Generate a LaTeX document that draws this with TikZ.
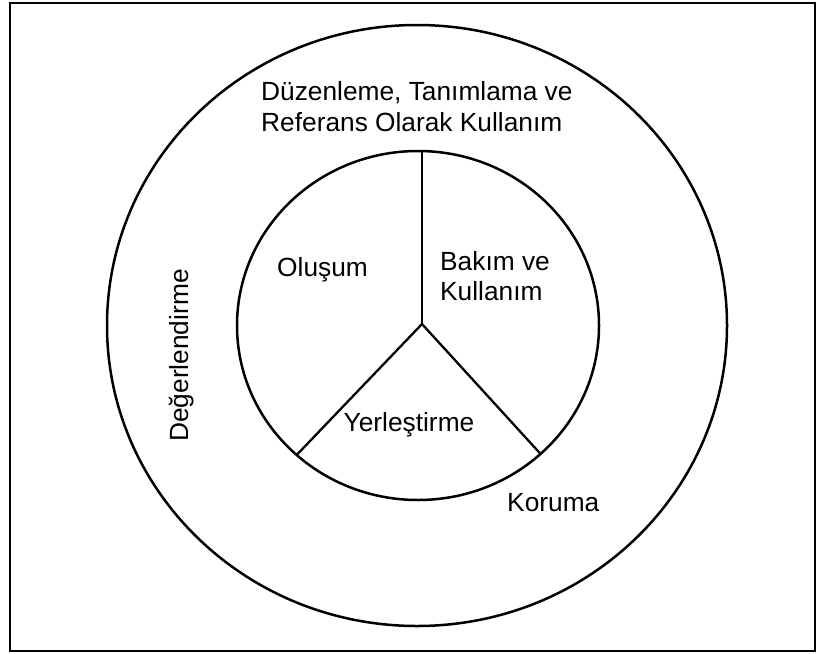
\documentclass[tikz,border=0pt]{standalone}
\usepackage{fontspec}
\setmainfont{Liberation Sans}
\begin{document}
\begin{tikzpicture}[x=1pt,y=-1pt,
  ring/.style={draw, line width=2.5pt},
  spoke/.style={draw, line width=2.3pt},
  frame/.style={draw, line width=2pt},
  lbl/.style={inner sep=0pt, anchor=base west, font=\fontsize{26.3}{31}\selectfont}]
\useasboundingbox (0,0) rectangle (818,653);
% outer frame
\draw[frame] (10,3) rectangle (815,651);
% rings
\draw[ring] (417,325.5) ellipse [x radius=310, y radius=300.5];
\draw[ring] (418,325.5) ellipse [x radius=181, y radius=174.5];
% spokes of the inner ring
\coordinate (hub) at (422,324);
\coordinate (top) at (422,151);
\coordinate (lowleft) at (297.3,454.3);
\coordinate (lowright) at (540,453.3);
\draw[spoke] (hub) -- (top);
\draw[spoke] (hub) -- (lowleft);
\draw[spoke] (hub) -- (lowright);
% labels
\node[lbl] (duz) at (261,100.5) {Düzenleme, Tanımlama ve};
\node[lbl] (ref) at (261,131.5) {Referans Olarak Kullanım};
\node[lbl] (olus) at (277,276) {Oluşum};
\node[lbl] (bakim) at (440,270) {Bakım ve};
\node[lbl] (kull) at (440,300) {Kullanım};
\node[lbl] (yer) at (343.5,431.5) {Yerleştirme};
\node[lbl] (koru) at (507,511.5) {Koruma};
\node[lbl, rotate=90] (deger) at (188.5,442) {Değerlendirme};
\end{tikzpicture}
\end{document}
